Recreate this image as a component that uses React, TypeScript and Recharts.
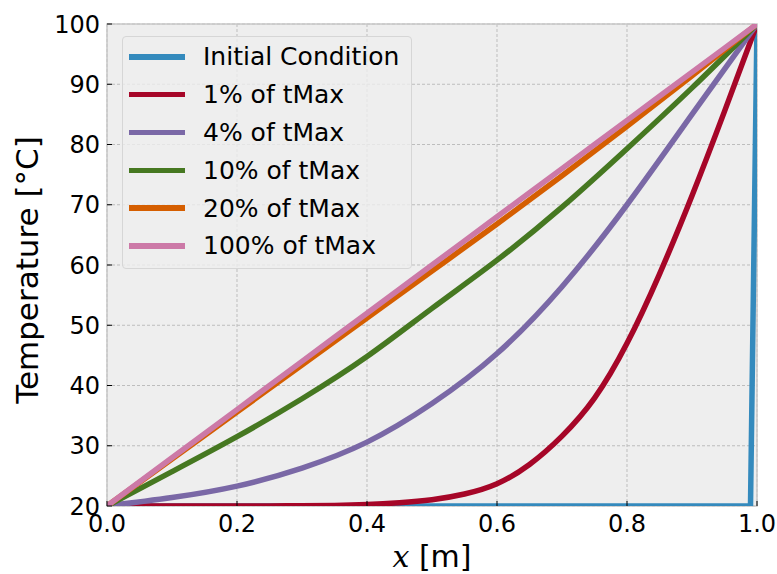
import {
    LineChart,
    Line,
    XAxis,
    YAxis,
    CartesianGrid,
    Legend,
    ReferenceArea,
} from "recharts";

const xCoarse = [0, 0.1, 0.2, 0.3, 0.4, 0.5, 0.6, 0.7, 0.8, 0.9, 1.0];
const xFine = [0, 0.05, 0.1, 0.15, 0.2, 0.25, 0.3, 0.35, 0.4, 0.45, 0.5, 0.55, 0.6, 0.65, 0.7, 0.75, 0.8, 0.85, 0.9, 0.95, 1.0];
const xInitial = [0, 0.99, 1.0];

// temperatures (°C)
const tInitial = [20, 20, 100];
const t1 = [20, 20, 20, 20, 20, 20, 20.05, 20.1, 20.25, 20.55, 21.05, 22.0, 23.7, 26.9, 31.6, 37.9, 47, 58.5, 71.5, 85.5, 100];
const t4 = [20, 21.4, 23.3, 26.3, 30.6, 37.0, 45.3, 56.4, 70, 85, 100];
const t10 = [20, 25.7, 31.5, 37.8, 44.8, 52.8, 60.8, 69.6, 79.3, 89.4, 100];
const t20 = [20, 27.8, 35.6, 43.4, 51.2, 59.0, 66.8, 74.8, 83.0, 91.4, 100];
const t100 = [20, 28, 36, 44, 52, 60, 68, 76, 84, 92, 100];

const xTicks = [0, 0.2, 0.4, 0.6, 0.8, 1.0];
const yTicks = [20, 30, 40, 50, 60, 70, 80, 90, 100];

const toRows = (xs: number[], ts: number[]) => xs.map((x, i) => ({ x, t: ts[i] }));

const series = [
    { name: "Initial Condition", color: "#348ABD", data: toRows(xInitial, tInitial), type: "linear" },
    { name: "1% of tMax", color: "#A60628", data: toRows(xFine, t1), type: "natural" },
    { name: "4% of tMax", color: "#7A68A6", data: toRows(xCoarse, t4), type: "natural" },
    { name: "10% of tMax", color: "#467821", data: toRows(xCoarse, t10), type: "natural" },
    { name: "20% of tMax", color: "#D55E00", data: toRows(xCoarse, t20), type: "natural" },
    { name: "100% of tMax", color: "#CC79A7", data: toRows(xCoarse, t100), type: "natural" },
];

const FONT = "DejaVu Sans";

const YTick = (props: any) => {
    const { x, y, payload } = props;
    return (
        <g>
            <line x1={x} x2={x + 5} y1={y} y2={y} stroke="#000" strokeWidth={1} />
            <text x={x - 7} y={y} dy="0.36em" textAnchor="end" fontSize={24} fontFamily={FONT} fill="#000">
                {payload.value}
            </text>
        </g>
    );
};

const XTick = (props: any) => {
    const { x, y, payload } = props;
    return (
        <g>
            <line x1={x} x2={x} y1={y} y2={y - 5} stroke="#000" strokeWidth={1} />
            <text x={x} y={y + 26} textAnchor="middle" fontSize={24} fontFamily={FONT} fill="#000">
                {Number(payload.value).toFixed(1)}
            </text>
        </g>
    );
};

const YLabel = (props: any) => {
    const { viewBox } = props;
    const cx = viewBox.x + 38;
    const cy = viewBox.y + viewBox.height / 2 + 5;
    return (
        <text
            x={cx}
            y={cy}
            transform={`rotate(-90 ${cx} ${cy})`}
            textAnchor="middle"
            fontSize={31}
            fontFamily={FONT}
            fill="#000"
        >
            Temperature [°C]
        </text>
    );
};

const XLabel = (props: any) => {
    const { viewBox } = props;
    return (
        <text
            x={viewBox.x + viewBox.width / 2}
            y={viewBox.y + 61}
            textAnchor="middle"
            fontSize={30}
            fontFamily={FONT}
            fill="#000"
        >
            <tspan fontFamily="DejaVu Serif" fontStyle="italic">x</tspan>
            <tspan> [m]</tspan>
        </text>
    );
};

// drawn from the series list so the order matches the plotting order
const CustomLegend = () => (
    <div style={{
        width: 290,
        height: 233,
        boxSizing: "border-box",
        background: "rgba(238,238,238,0.8)",
        border: "1px solid #d6d6d6",
        borderRadius: 4,
        paddingTop: 1,
        fontFamily: FONT,
        fontSize: 25,
        color: "#000",
    }}>
        {series.map((s) => (
            <div key={s.name} style={{ height: 37.8, display: "flex", alignItems: "center" }}>
                <div style={{ width: 56, height: 5.5, marginLeft: 6, background: s.color }} />
                <span style={{ marginLeft: 18, whiteSpace: "nowrap" }}>{s.name}</span>
            </div>
        ))}
    </div>
);

export default function App() {
    return (
        <div style={{ position: "absolute", top: 0, left: 0, background: "#fff" }}>
            <LineChart
                width={777}
                height={574}
                margin={{ top: 24, right: 20, bottom: 28, left: 0 }}
            >
                <CartesianGrid
                    stroke="#bdbdbd"
                    strokeDasharray="3 2"
                    fill="#eeeeee"
                />
                <XAxis
                    dataKey="x"
                    type="number"
                    domain={[0, 1]}
                    ticks={xTicks}
                    allowDataOverflow
                    height={40}
                    axisLine={false}
                    tickLine={false}
                    tickSize={0}
                    tickMargin={0}
                    tick={<XTick />}
                    label={<XLabel />}
                />
                <YAxis
                    dataKey="t"
                    type="number"
                    domain={[20, 100]}
                    ticks={yTicks}
                    allowDataOverflow
                    width={107}
                    axisLine={false}
                    tickLine={false}
                    tickSize={0}
                    tickMargin={0}
                    tick={<YTick />}
                    label={<YLabel />}
                />
                <ReferenceArea x1={0} x2={1} y1={20} y2={100} fill="none" stroke="#c8c8c8" strokeWidth={1.5} />
                {series.map((s) => (
                    <Line
                        key={s.name}
                        name={s.name}
                        data={s.data}
                        dataKey="t"
                        type={s.type as any}
                        stroke={s.color}
                        strokeWidth={5.5}
                        dot={false}
                        activeDot={false}
                        isAnimationActive={false}
                    />
                ))}
                <Legend
                    layout="vertical"
                    align="center"
                    verticalAlign="middle"
                    wrapperStyle={{ left: 122, top: 36, width: 290 }}
                    content={<CustomLegend />}
                />
            </LineChart>
        </div>
    );
}
